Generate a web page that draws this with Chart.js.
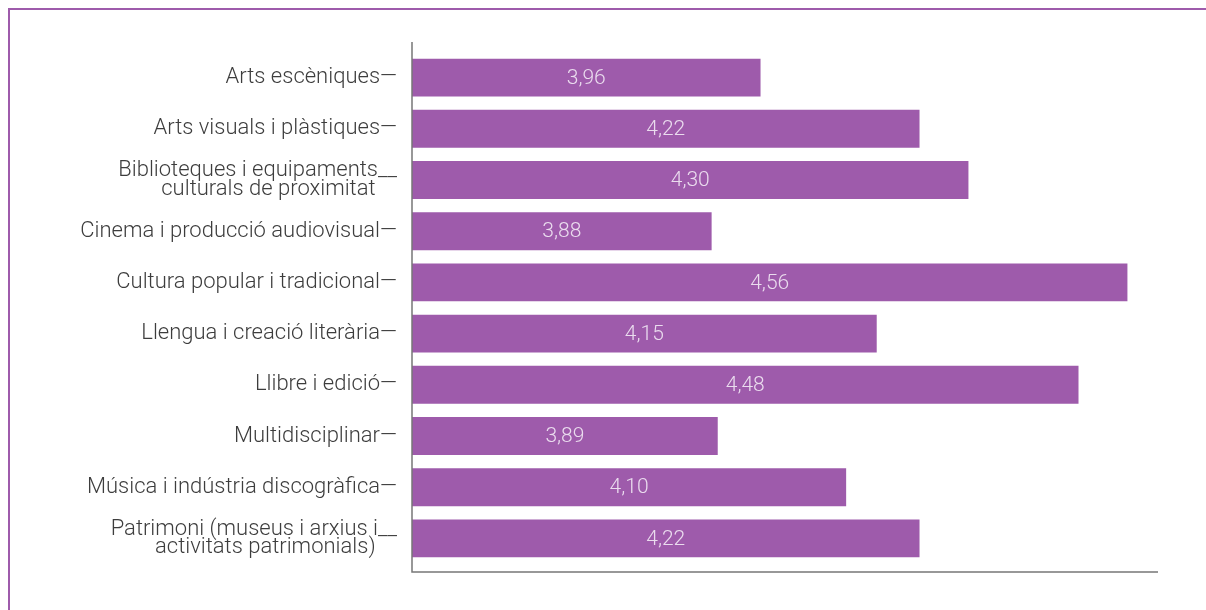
<!DOCTYPE html>
<html>
<head>
<meta charset="utf-8">
<script src="https://cdn.jsdelivr.net/npm/chart.js@4/dist/chart.umd.min.js"></script>
<style>
  body { margin: 0; background: #fff; }
  .frame {
    position: absolute; left: 8px; top: 8px; right: 0; bottom: 0;
    border-top: 2px solid #9e5bab; border-left: 2px solid #9e5bab;
  }
  .wrap { position: absolute; left: 0; top: 0; width: 1206px; height: 610px; }
</style>
</head>
<body>
<div class="frame"></div>
<div class="wrap"><canvas id="barChart" width="1206" height="610"></canvas></div>
<script>
// Chart data
const categories = [
    ['Arts escèniques—'],
    ['Arts visuals i plàstiques—'],
    ['Biblioteques i equipaments__', 'culturals de proximitat    '],
    ['Cinema i producció audiovisual—'],
    ['Cultura popular i tradicional—'],
    ['Llengua i creació literària—'],
    ['Llibre i edició—'],
    ['Multidisciplinar—'],
    ['Música i indústria discogràfica—'],
    ['Patrimoni (museus i arxius i__', 'activitats patrimonials)    ']
];
const scores = [3.96, 4.22, 4.30, 3.88, 4.56, 4.15, 4.48, 3.89, 4.10, 4.22];

const barColor = '#9e5bab';
const fontFamily = 'Roboto, "Liberation Sans", sans-serif';

// value labels inside the bars (bar base sits off-canvas, so use the chart area edge)
const valueLabels = {
    id: 'valueLabels',
    afterDatasetsDraw(chart) {
        const c = chart.ctx;
        const meta = chart.getDatasetMeta(0);
        const left = chart.chartArea.left;
        c.save();
        c.font = '300 21px ' + fontFamily;
        c.fillStyle = '#eadcee';
        c.textAlign = 'center';
        c.textBaseline = 'middle';
        meta.data.forEach((bar, i) => {
            const x = (left + bar.x) / 2;
            c.fillText(scores[i].toFixed(2).replace('.', ','), x, bar.y + 1);
        });
        c.restore();
    }
};

// axis lines, a bit longer than the category band
const axisLines = {
    id: 'axisLines',
    afterDraw(chart) {
        const a = chart.chartArea;
        const c = chart.ctx;
        c.save();
        c.strokeStyle = '#777';
        c.lineWidth = 1.5;
        c.beginPath();
        c.moveTo(a.left, a.top - 10);
        c.lineTo(a.left, a.bottom + 8);
        c.lineTo(a.right, a.bottom + 8);
        c.stroke();
        c.restore();
    }
};

const ctx = document.getElementById('barChart').getContext('2d');

new Chart(ctx, {
    type: 'bar',
    data: {
        labels: categories,
        datasets: [{
            data: scores,
            backgroundColor: barColor,
            borderWidth: 0,
            barPercentage: 0.74,
            categoryPercentage: 1
        }]
    },
    plugins: [valueLabels, axisLines],
    options: {
        indexAxis: 'y',
        responsive: false,
        animation: false,
        layout: {
            padding: { left: 0, right: 48, top: 52, bottom: 46 }
        },
        plugins: {
            legend: { display: false },
            tooltip: { enabled: false }
        },
        scales: {
            x: {
                display: false,
                min: 3.39,
                max: 4.61
            },
            y: {
                afterFit(scale) { scale.width = 412; },
                grid: { display: false, drawTicks: false },
                border: { display: false },
                ticks: {
                    padding: 15,
                    color: '#3d3d3d',
                    font: { family: fontFamily, size: 22, weight: '300', lineHeight: 0.82 }
                }
            }
        }
    }
});
</script>
</body>
</html>
